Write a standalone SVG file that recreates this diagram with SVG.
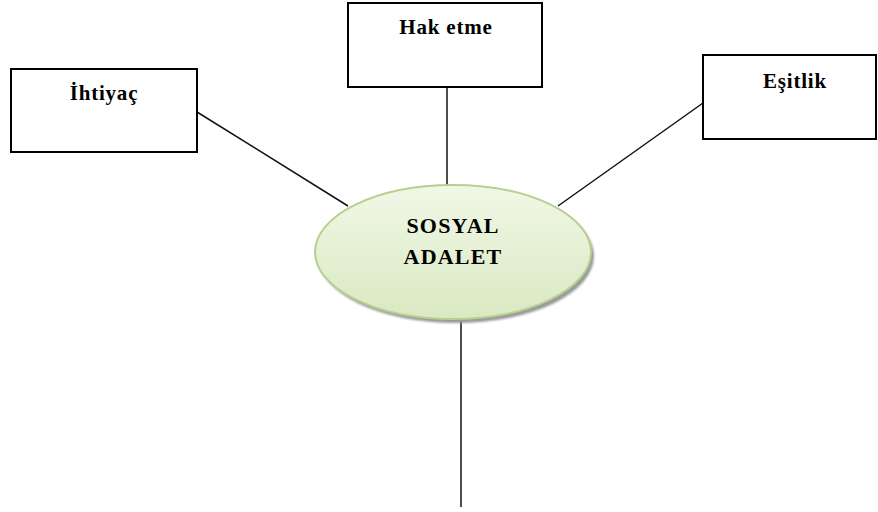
<svg xmlns="http://www.w3.org/2000/svg" width="878" height="512" viewBox="0 0 878 512">
<defs>
<linearGradient id="g" x1="0" y1="0" x2="0" y2="1">
<stop offset="0" stop-color="#f1f7e6"/>
<stop offset="1" stop-color="#d9e9c2"/>
</linearGradient>
<filter id="blur" x="-10%" y="-10%" width="120%" height="120%"><feGaussianBlur stdDeviation="1.2"/></filter>
</defs>
<style>
.box{fill:#fff;stroke:#000;stroke-width:2}
.lbl{font-family:"Liberation Serif","Times New Roman",serif;font-weight:bold;font-size:21px;fill:#000;text-anchor:middle;letter-spacing:0.8px}
.big{font-size:22px;letter-spacing:1.2px}
.conn{stroke:#111;stroke-width:1.5;fill:none}
</style>
<rect width="878" height="512" fill="#fff"/>
<g id="connectors">
<line class="conn" x1="197" y1="112" x2="348" y2="206"/>
<line class="conn" x1="447" y1="87" x2="447" y2="186"/>
<line class="conn" x1="558" y1="206" x2="703" y2="103"/>
<line class="conn" x1="461" y1="318" x2="461" y2="507"/>
</g>
<g id="ihtiyac">
<rect class="box" x="11" y="69" width="186" height="83"/>
<text class="lbl" x="104" y="100">İhtiyaç</text>
</g>
<g id="hak-etme">
<rect class="box" x="348" y="3" width="194" height="84"/>
<text class="lbl" x="446" y="34">Hak etme</text>
</g>
<g id="esitlik">
<rect class="box" x="703" y="55" width="173" height="84"/>
<text class="lbl" x="795" y="88">Eşitlik</text>
</g>
<g id="sosyal-adalet">
<ellipse cx="456" cy="256" rx="138" ry="67" fill="#9a9a9a" filter="url(#blur)"/>
<ellipse cx="453" cy="252" rx="138" ry="67" fill="url(#g)" stroke="#b7d08f" stroke-width="2"/>
<text class="lbl big" x="453" y="233">SOSYAL</text>
<text class="lbl big" x="453" y="264">ADALET</text>
</g>
</svg>
